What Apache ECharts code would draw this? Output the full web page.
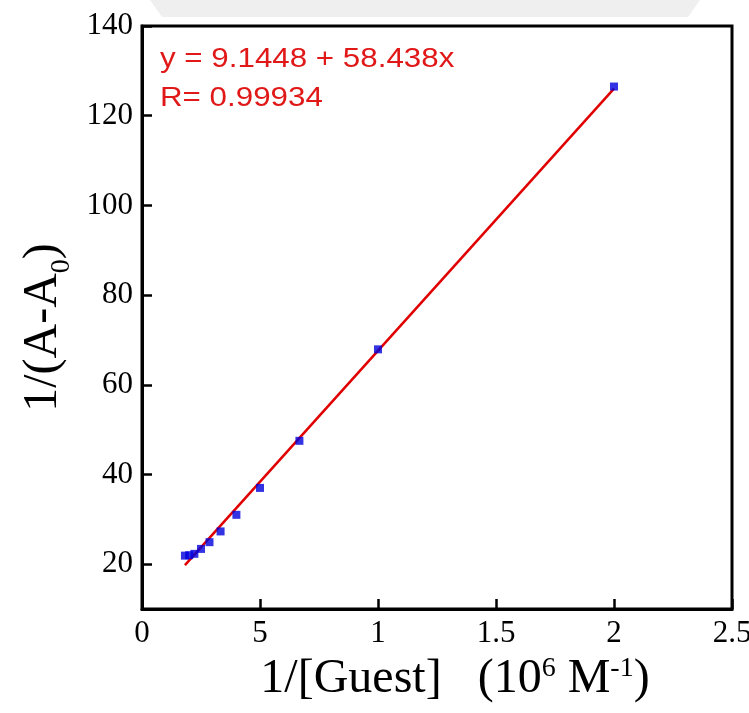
<!DOCTYPE html>
<html>
<head>
<meta charset="utf-8">
<script src="https://cdn.jsdelivr.net/npm/echarts@6/dist/echarts.min.js"></script>
<style>
  html, body { margin: 0; padding: 0; background: #fff; }
  #chart { width: 749px; height: 713px; }
</style>
</head>
<body>
<div id="chart"></div>
<script>
// Benesi-Hildebrand style double-reciprocal data
const invGuest = [0.182, 0.2, 0.222, 0.25, 0.286, 0.333, 0.4, 0.5, 0.667, 1.0, 2.0];
const invDeltaA = [21.9, 22.0, 22.3, 23.4, 24.9, 27.3, 31.0, 37.0, 47.5, 67.9, 126.5];

// Linear fit reported on the plot
const fitIntercept = 9.1448;
const fitSlope = 58.438;
const fitR = 0.99934;

// Axis tick labels
const xTickValues = [0, 0.5, 1, 1.5, 2, 2.5];
const xTickLabels = ['0', '5', '1', '1.5', '2', '2.5'];
const yTickValues = [20, 40, 60, 80, 100, 120, 140];

const xFirst = Math.min(...invGuest);
const xLast = Math.max(...invGuest);
const fitLine = [
  [xFirst, fitIntercept + fitSlope * xFirst],
  [xLast, fitIntercept + fitSlope * xLast]
];

const serif = '"Liberation Serif", "Times New Roman", serif';
const sans = '"Liberation Sans", Arial, sans-serif';
const fitColor = '#e01818';

const chart = echarts.init(document.getElementById('chart'), null, { renderer: 'canvas' });

chart.setOption({
  animation: false,
  backgroundColor: '#fff',
  grid: {
    left: 142, right: 17, top: 26, bottom: 104,
    containLabel: false, outerBoundsMode: 'none',
    show: true, borderColor: '#000', borderWidth: 3, backgroundColor: 'transparent'
  },
  xAxis: {
    type: 'value',
    min: 0, max: 2.5, interval: 0.5,
    axisLine: { show: true, lineStyle: { color: '#000', width: 3 } },
    axisTick: { show: true, inside: true, length: 10, lineStyle: { color: '#000', width: 2.5 } },
    splitLine: { show: false },
    axisLabel: {
      color: '#000', fontFamily: serif, fontSize: 31, margin: 9,
      formatter: v => {
        const i = xTickValues.findIndex(t => Math.abs(t - v) < 1e-9);
        return i >= 0 ? xTickLabels[i] : '';
      }
    },
    name: '1/[Guest]   (10{sup|6} M{sup|-1})',
    nameLocation: 'middle',
    nameGap: 46,
    nameTextStyle: {
      color: '#000', fontFamily: serif, fontSize: 48, padding: [0, 0, 0, 36],
      rich: {
        sup: { fontFamily: serif, fontSize: 28, color: '#000', verticalAlign: 'top', lineHeight: 48, padding: [0, 0, 18, 0] }
      }
    }
  },
  yAxis: {
    type: 'value',
    min: 10, max: 140,
    axisLine: { show: true, lineStyle: { color: '#000', width: 3 } },
    axisTick: { show: true, inside: true, length: 10, customValues: yTickValues, lineStyle: { color: '#000', width: 2.5 } },
    splitLine: { show: false },
    axisLabel: { color: '#000', fontFamily: serif, fontSize: 31, margin: 9, customValues: yTickValues },
    name: '1/(A-A{sub|0})',
    nameLocation: 'middle',
    nameRotate: 90,
    nameGap: 66,
    nameTextStyle: {
      color: '#000', fontFamily: serif, fontSize: 48, padding: [0, 20, 0, 0],
      rich: {
        sub: { fontFamily: serif, fontSize: 28, color: '#000', verticalAlign: 'bottom', lineHeight: 64 }
      }
    }
  },
  graphic: [
    {
      // faint grey band behind the top of the frame
      type: 'polygon', z: -10, silent: true,
      shape: { points: [[150, 0], [700, 0], [688, 17], [162, 17]] },
      style: { fill: '#efefef' }
    },
    {
      type: 'text', left: 160, top: 46, scaleX: 1.16,
      style: { text: 'y = ' + fitIntercept + ' + ' + fitSlope + 'x', fill: fitColor, font: '27px ' + sans }
    },
    {
      type: 'text', left: 160, top: 85, scaleX: 1.16,
      style: { text: 'R= ' + fitR, fill: fitColor, font: '27px ' + sans }
    }
  ],
  series: [
    {
      type: 'line',
      data: fitLine,
      symbol: 'none',
      lineStyle: { color: '#e00000', width: 2.5 },
      z: 2
    },
    {
      type: 'scatter',
      data: invGuest.map((x, i) => [x, invDeltaA[i]]),
      symbol: 'rect',
      symbolSize: 8,
      itemStyle: { color: '#0000dd' },
      z: 3
    }
  ]
});
</script>
</body>
</html>
